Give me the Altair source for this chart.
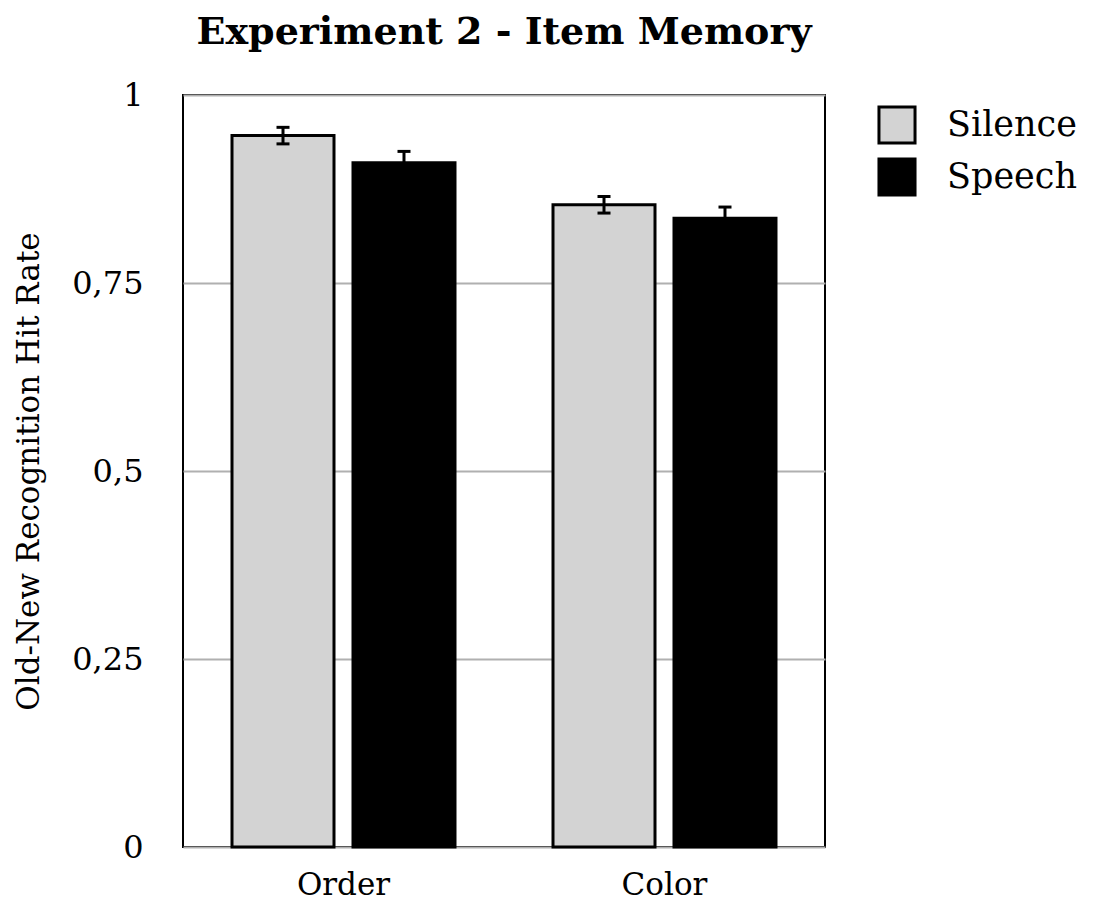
import altair as alt
import pandas as pd

categories = ["Order", "Color"]
conditions = ["Silence", "Speech"]
cat_col = ["Order", "Order", "Color", "Color"]
cond_col = ["Silence", "Speech", "Silence", "Speech"]
means = [0.946, 0.910, 0.854, 0.836]
errors = [0.011, 0.015, 0.011, 0.015]
y_ticks = [0, 0.25, 0.5, 0.75, 1]
colors = ["#d3d3d3", "#000000"]

df = pd.DataFrame({"cat": cat_col, "cond": cond_col, "mean": means, "err": errors})
df["lo"] = df["mean"] - df["err"]
df["hi"] = df["mean"] + df["err"]

FONT = "DejaVu Serif"

x_enc = alt.X("cat:N", sort=categories, title=None,
              scale=alt.Scale(paddingInner=0, paddingOuter=0),
              axis=alt.Axis(labelAngle=0, ticks=False, domain=False, grid=False,
                            labelFontSize=31, labelPadding=23, labelColor="black"))
xo_enc = alt.XOffset("cond:N", sort=conditions,
                     scale=alt.Scale(paddingInner=0.157, paddingOuter=0.405))

base = alt.Chart(df)

bars = base.mark_bar(stroke="black", strokeWidth=3).encode(
    x=x_enc,
    xOffset=xo_enc,
    y=alt.Y("mean:Q", title="Old-New Recognition Hit Rate",
            scale=alt.Scale(domain=[0, 1], nice=False),
            axis=alt.Axis(values=y_ticks, ticks=False, domain=False,
                          labelExpr="replace(format(datum.value, ''), '.', ',')",
                          labelFontSize=32, labelPadding=40, labelColor="black",
                          titleFontSize=31, titleFontWeight="normal", titlePadding=26,
                          titleColor="black",
                          gridColor="#b0b0b0", gridWidth=2)),
    fill=alt.Fill("cond:N", sort=conditions,
                  scale=alt.Scale(domain=conditions, range=colors),
                  legend=alt.Legend(title=None, symbolType="square", symbolSize=1300,
                                    symbolStrokeColor="black", symbolStrokeWidth=3,
                                    labelFontSize=35, labelOffset=30, rowPadding=2,
                                    orient="none", legendX=694, legendY=10,
                                    padding=0, labelColor="black")),
)

stems = base.mark_rule(color="black", strokeWidth=3).encode(
    x=x_enc, xOffset=xo_enc, y="lo:Q", y2="hi:Q")

caps_hi = base.mark_tick(color="black", orient="horizontal", size=13, thickness=3,
                         opacity=1).encode(x=x_enc, xOffset=xo_enc, y="hi:Q")
caps_lo = base.mark_tick(color="black", orient="horizontal", size=13, thickness=3,
                         opacity=1).encode(x=x_enc, xOffset=xo_enc, y="lo:Q")

chart = alt.layer(bars, stems, caps_hi, caps_lo).properties(
    width=642, height=752,
    title=alt.Title("Experiment 2 - Item Memory", fontSize=38, fontWeight="bold",
                    font=FONT, offset=27, color="black"),
    padding={"left": 5, "top": 6, "right": 5, "bottom": 5},
).configure(font=FONT).configure_view(stroke="black", strokeWidth=2)

chart.save("out.html", embed_options={"renderer": "svg", "actions": False})
